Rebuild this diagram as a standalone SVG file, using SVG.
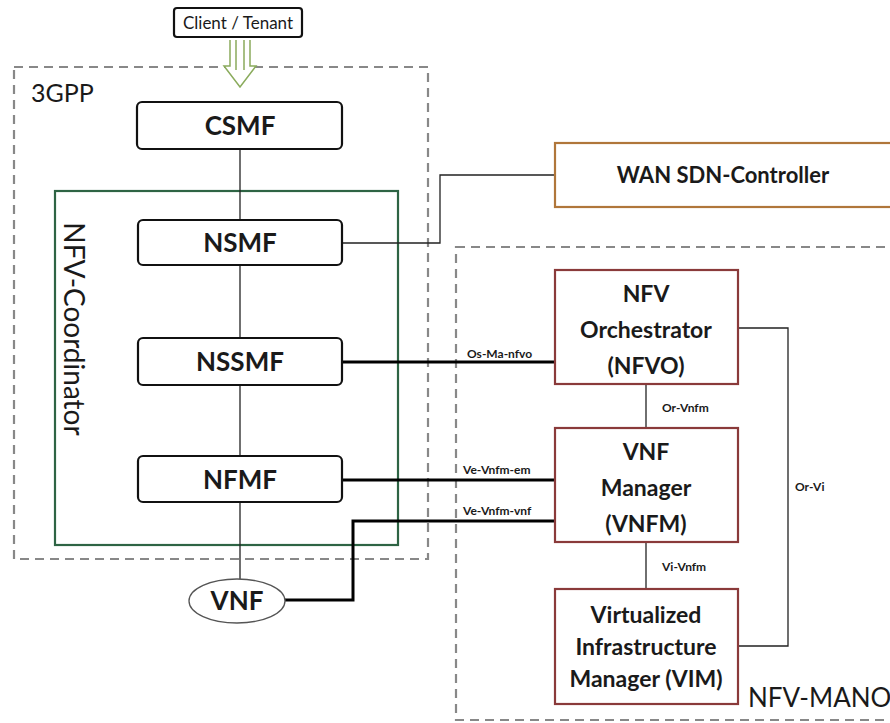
<svg xmlns="http://www.w3.org/2000/svg" width="890" height="723" viewBox="0 0 890 723">
<style>
text{font-family:Lato,"Open Sans","Liberation Sans",sans-serif;fill:#1a1a1a}
.box{fill:#fff;stroke:#111;stroke-width:2.2}
.mano{fill:#fff;stroke:#8a3a3a;stroke-width:2.2}
.dash{fill:none;stroke:#888;stroke-width:2.2;stroke-dasharray:9 6}
.thin{fill:none;stroke:#222;stroke-width:1.3}
.thick{fill:none;stroke:#000;stroke-width:3}
.t{font-size:26px;font-weight:bold;text-anchor:middle}
.m{font-size:23px;font-weight:bold;text-anchor:middle}
.lbl{font-size:12px;font-weight:bold}
</style>
<rect width="890" height="723" fill="#fff"/>
<g id="group-3gpp">
<rect class="dash" x="14" y="67" width="414" height="492"/>
<text x="31" y="102" style="font-size:25px">3GPP</text>
</g>
<g id="group-mano">
<rect class="dash" x="456" y="247" width="450" height="473"/>
<text x="748" y="707" style="font-size:26px">NFV-MANO</text>
</g>
<g id="nfv-coordinator">
<rect x="55" y="191" width="343" height="354" fill="none" stroke="#2e6444" stroke-width="2.2"/>
<text transform="translate(64,329) rotate(90)" style="font-size:28px;text-anchor:middle">NFV-Coordinator</text>
</g>
<g id="connectors">
<line class="thin" x1="240" y1="149" x2="240" y2="580"/>
<polyline class="thin" points="342,243 440,243 440,175 555,175"/>
<line class="thick" x1="342" y1="362" x2="555" y2="362"/>
<line class="thick" x1="342" y1="480" x2="555" y2="480"/>
<polyline class="thick" points="285,600 353,600 353,521 555,521"/>
<line class="thin" x1="646" y1="384" x2="646" y2="428"/>
<line class="thin" x1="646" y1="542" x2="646" y2="589"/>
<polyline class="thin" points="738,328 788,328 788,646 738,646"/>
<text class="lbl" x="467" y="358">Os-Ma-nfvo</text>
<text class="lbl" x="463" y="474">Ve-Vnfm-em</text>
<text class="lbl" x="463" y="515">Ve-Vnfm-vnf</text>
<text class="lbl" x="662" y="412">Or-Vnfm</text>
<text class="lbl" x="662" y="571">Vi-Vnfm</text>
<text class="lbl" x="795" y="491">Or-Vi</text>
<path d="M230,40 V66 H224 L240,87 L256,66 H250 V40 M236,40 V70 M244,40 V70" fill="#fff" stroke="#8aab5c" stroke-width="1.5"/>
</g>
<g id="client">
<rect class="box" x="174" y="8" width="128" height="29" rx="3"/>
<text x="238" y="29" style="font-size:17px;text-anchor:middle">Client / Tenant</text>
</g>
<g id="csmf"><rect class="box" x="137" y="102" width="205" height="47" rx="5"/><text class="t" x="240" y="135">CSMF</text></g>
<g id="nsmf"><rect class="box" x="138" y="220" width="204" height="45" rx="5"/><text class="t" x="240" y="252">NSMF</text></g>
<g id="nssmf"><rect class="box" x="138" y="338" width="204" height="47" rx="5"/><text class="t" x="240" y="371">NSSMF</text></g>
<g id="nfmf"><rect class="box" x="138" y="456" width="204" height="46" rx="5"/><text class="t" x="240" y="489">NFMF</text></g>
<g id="vnf"><ellipse cx="237" cy="601" rx="48" ry="22" fill="#fff" stroke="#555" stroke-width="1.3"/><text class="t" x="237" y="610">VNF</text></g>
<g id="wan"><rect x="555" y="143" width="350" height="64" fill="#fff" stroke="#b0763a" stroke-width="2.2"/><text x="723" y="183" style="font-size:22px;font-weight:bold;text-anchor:middle">WAN SDN-Controller</text></g>
<g id="nfvo"><rect class="mano" x="555" y="270" width="183" height="114"/><text class="m" x="646" y="302">NFV</text><text class="m" x="646" y="338">Orchestrator</text><text class="m" x="646" y="374">(NFVO)</text></g>
<g id="vnfm"><rect class="mano" x="555" y="428" width="183" height="114"/><text class="m" x="646" y="460">VNF</text><text class="m" x="646" y="496">Manager</text><text class="m" x="646" y="532">(VNFM)</text></g>
<g id="vim"><rect class="mano" x="555" y="589" width="183" height="115"/><text class="m" x="646" y="623">Virtualized</text><text class="m" x="646" y="655">Infrastructure</text><text class="m" x="646" y="687">Manager (VIM)</text></g>
</svg>
